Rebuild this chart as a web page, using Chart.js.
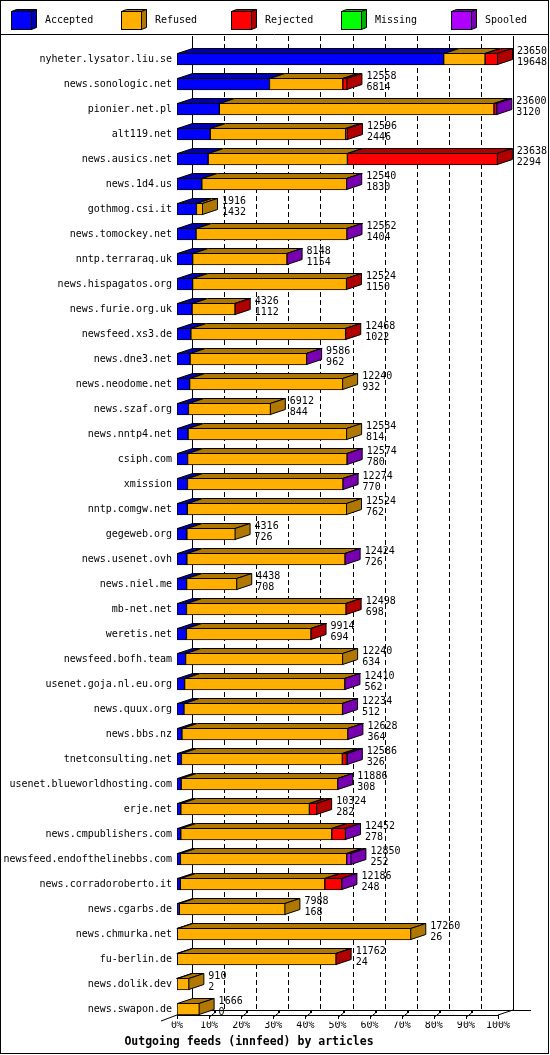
<!DOCTYPE html>
<html>
<head>
<meta charset="utf-8">
<title>Outgoing feeds (innfeed) by articles</title>
<script src="https://cdn.jsdelivr.net/npm/chart.js@4.4.1/dist/chart.umd.min.js"></script>
<style>
  html, body { margin: 0; padding: 0; background: #fff; }
  canvas { display: block; }
</style>
</head>
<body>
<canvas id="feeds" width="550" height="1055"></canvas>
<script>
// innfeed peers, top to bottom
const hosts = [
  'nyheter.lysator.liu.se', 'news.sonologic.net', 'pionier.net.pl', 'alt119.net',
  'news.ausics.net', 'news.1d4.us', 'gothmog.csi.it', 'news.tomockey.net',
  'nntp.terraraq.uk', 'news.hispagatos.org', 'news.furie.org.uk', 'newsfeed.xs3.de',
  'news.dne3.net', 'news.neodome.net', 'news.szaf.org', 'news.nntp4.net',
  'csiph.com', 'xmission', 'nntp.comgw.net', 'gegeweb.org',
  'news.usenet.ovh', 'news.niel.me', 'mb-net.net', 'weretis.net',
  'newsfeed.bofh.team', 'usenet.goja.nl.eu.org', 'news.quux.org', 'news.bbs.nz',
  'tnetconsulting.net', 'usenet.blueworldhosting.com', 'erje.net', 'news.cmpublishers.com',
  'newsfeed.endofthelinebbs.com', 'news.corradoroberto.it', 'news.cgarbs.de', 'news.chmurka.net',
  'fu-berlin.de', 'news.dolik.dev', 'news.swapon.de'
];

const offered = [
  23650, 12558, 23600, 12596, 23638, 12540, 1916, 12562,
  8148, 12524, 4326, 12468, 9586, 12240, 6912, 12534,
  12574, 12274, 12524, 4316, 12424, 4438, 12498, 9914,
  12240, 12410, 12234, 12628, 12586, 11886, 10324, 12452,
  12850, 12186, 7988, 17260, 11762, 910, 1666
];

const accepted = [
  19648, 6814, 3120, 2446, 2294, 1830, 1432, 1404,
  1154, 1150, 1112, 1022, 962, 932, 844, 814,
  780, 770, 762, 726, 726, 708, 698, 694,
  634, 562, 512, 364, 326, 308, 282, 278,
  252, 248, 168, 26, 24, 2, 0
];

const refused = [
  3050, 5400, 20230, 9980, 10260, 10680, 484, 11130,
  6960, 11340, 3170, 11400, 8590, 11308, 6068, 11720,
  11760, 11470, 11762, 3590, 11664, 3730, 11766, 9186,
  11606, 11814, 11688, 12230, 11856, 11540, 9472, 11124,
  12250, 10640, 7820, 17234, 11704, 908, 1666
];

const rejected = [
  952, 344, 180, 170, 11084, 0, 0, 0,
  0, 34, 44, 46, 0, 0, 0, 0,
  0, 0, 0, 0, 0, 0, 34, 34,
  0, 0, 0, 0, 300, 0, 570, 1010,
  0, 1250, 0, 0, 34, 0, 0
];

const missing = [
  0, 0, 0, 0, 0, 0, 0, 0,
  0, 0, 0, 0, 0, 0, 0, 0,
  0, 0, 0, 0, 0, 0, 0, 0,
  0, 0, 0, 0, 0, 0, 0, 0,
  0, 0, 0, 0, 0, 0, 0
];

const spooled = [
  0, 0, 70, 0, 0, 30, 0, 28,
  34, 0, 0, 0, 34, 0, 0, 0,
  34, 34, 0, 0, 34, 0, 0, 0,
  0, 34, 34, 34, 104, 38, 0, 40,
  348, 48, 0, 0, 0, 0, 0
];

const seriesNames = ['Accepted', 'Refused', 'Rejected', 'Missing', 'Spooled'];
const tickPercents = [0, 10, 20, 30, 40, 50, 60, 70, 80, 90, 100];
const tickLabels = ['0%', '10%', '20%', '30%', '40%', '50%', '60%', '70%', '80%', '90%', '100%'];

const MONO = '"DejaVu Sans Mono", "Liberation Mono", monospace';
const faceColors = ['#0000ff', '#ffaf00', '#ff0000', '#00ff00', '#af00ff'];
const shadeColors = ['#0000b0', '#b07800', '#b00000', '#00b000', '#7800b0'];
const DX = 15, DY = 5;   // depth of the 3d effect
const maxOffered = Math.max(...offered);
const seriesData = [accepted, refused, rejected, missing, spooled];

function poly(ctx, pts, fill) {
  ctx.beginPath();
  ctx.moveTo(pts[0][0], pts[0][1]);
  for (let i = 1; i < pts.length; i++) ctx.lineTo(pts[i][0], pts[i][1]);
  ctx.closePath();
  ctx.fillStyle = fill;
  ctx.fill();
  ctx.stroke();
}

function line(ctx, x1, y1, x2, y2) {
  ctx.beginPath();
  ctx.moveTo(x1, y1);
  ctx.lineTo(x2, y2);
  ctx.stroke();
}

// back wall grid and the floor, behind the bars
const backWall = {
  id: 'backWall',
  beforeDatasetsDraw(chart) {
    const { ctx } = chart;
    const xs = chart.scales.x, ys = chart.scales.y;
    const yFront = Math.round(ys.getPixelForValue(hosts.length - 1)) + 6;
    const yBack = yFront - DY;
    const top = 36;
    const px = p => Math.round(xs.getPixelForValue(maxOffered * p / 100));
    ctx.save();
    ctx.strokeStyle = '#000';
    ctx.fillStyle = '#000';
    ctx.lineWidth = 1;

    tickPercents.forEach((p, i) => {
      const xb = px(p) + DX + 0.5;
      const edge = i === 0 || i === tickPercents.length - 1;
      ctx.setLineDash(edge ? [] : [5, 3]);
      line(ctx, xb, top, xb, yBack);
    });
    ctx.setLineDash([]);

    const x0 = px(0), x1 = px(100);
    line(ctx, x0, yFront + 0.5, x1, yFront + 0.5);
    line(ctx, x0 + DX, yBack + 0.5, x1 + DX + 18, yBack + 0.5);
    line(ctx, x0 - 16, yFront + 6, x0, yFront);
    line(ctx, x1, yFront, x1 + DX, yBack);

    tickPercents.forEach((p, i) => {
      const xf = px(p) + 0.5;
      line(ctx, xf, yFront, xf, yFront + 4);
      if (i > 0 && i < tickPercents.length - 1) {
        line(ctx, xf, yFront + 2, xf + 5, yFront - 2);
        ctx.fillRect(xf + 4.5, yFront - 4, 2, 2);
      }
    });
    ctx.restore();
  }
};

// top and side faces, plus offered / accepted counts
const depthFaces = {
  id: 'depthFaces',
  afterDatasetsDraw(chart) {
    const { ctx } = chart;
    const xs = chart.scales.x, ys = chart.scales.y;
    ctx.save();
    ctx.strokeStyle = '#000';
    ctx.lineWidth = 1;
    ctx.lineJoin = 'miter';

    hosts.forEach((h, i) => {
      let last = -1;
      seriesData.forEach((arr, d) => {
        if (!arr[i]) return;
        const bar = chart.getDatasetMeta(d).data[i];
        const { x, base, y, height } = bar.getProps(['x', 'base', 'y', 'height'], true);
        const t = y - height / 2 + 0.5;
        const l = base + 0.5, r = x - 0.5;
        poly(ctx, [[l, t], [r, t], [r + DX, t - DY], [l + DX, t - DY]], shadeColors[d]);
        last = d;
      });
      if (last >= 0) {
        const bar = chart.getDatasetMeta(last).data[i];
        const { x, y, height } = bar.getProps(['x', 'y', 'height'], true);
        const t = y - height / 2 + 0.5, b = y + height / 2 - 0.5, r = x - 0.5;
        poly(ctx, [[r, t], [r + DX, t - DY], [r + DX, b - DY], [r, b]], shadeColors[last]);
      }
    });

    ctx.fillStyle = '#000';
    ctx.font = '10px ' + MONO;
    ctx.textAlign = 'left';
    ctx.textBaseline = 'alphabetic';
    hosts.forEach((h, i) => {
      const xEnd = xs.getPixelForValue(offered[i]);
      const c = ys.getPixelForValue(i);
      ctx.fillText(String(offered[i]), xEnd + DX + 4, c - 5);
      ctx.fillText(String(accepted[i]), xEnd + DX + 4, c + 6);
    });
    ctx.restore();
  }
};

// legend strip with cubes and the outer frame
const frameLegend = {
  id: 'frameLegend',
  afterDraw(chart) {
    const { ctx } = chart;
    ctx.save();
    ctx.strokeStyle = '#000';
    ctx.lineWidth = 1;
    seriesNames.forEach((name, k) => {
      const x = 11 + 110 * k + 0.5, y = 11.5, w = 20, hgt = 18;
      poly(ctx, [[x, y], [x + 5, y - 2], [x + w + 5, y - 2], [x + w, y]], shadeColors[k]);
      poly(ctx, [[x + w, y], [x + w + 5, y - 2], [x + w + 5, y + hgt - 2], [x + w, y + hgt]], shadeColors[k]);
      ctx.fillStyle = faceColors[k];
      ctx.fillRect(x, y, w, hgt);
      ctx.strokeRect(x, y, w, hgt);
      ctx.fillStyle = '#000';
      ctx.font = '10px ' + MONO;
      ctx.textBaseline = 'alphabetic';
      ctx.fillText(name, x + 33.5, 23);
    });
    ctx.strokeRect(0.5, 0.5, 548, 1053);
    line(ctx, 0, 34.5, 549, 34.5);
    ctx.restore();
  }
};

new Chart(document.getElementById('feeds'), {
  type: 'bar',
  data: {
    labels: hosts,
    datasets: seriesData.map((arr, d) => ({
      label: seriesNames[d],
      data: arr,
      backgroundColor: faceColors[d],
      borderColor: '#000',
      borderWidth: 1,
      borderSkipped: false,
      barThickness: 12
    }))
  },
  options: {
    indexAxis: 'y',
    responsive: false,
    animation: false,
    layout: { padding: { top: 46.5, right: 52, bottom: 1.7, left: 0 } },
    scales: {
      x: {
        stacked: true,
        min: 0,
        max: maxOffered,
        grid: { display: false, drawTicks: false },
        border: { display: false },
        afterBuildTicks: s => { s.ticks = tickPercents.map(p => ({ value: maxOffered * p / 100 })); },
        afterFit: s => { s.height = 10; },
        ticks: {
          autoSkip: false,
          maxRotation: 0,
          padding: -2,
          color: '#000',
          font: { family: MONO, size: 10 },
          callback: (v, i) => tickLabels[i]
        }
      },
      y: {
        stacked: true,
        grid: { display: false, drawTicks: false },
        border: { display: false },
        afterFit: s => { s.width = 177; },
        ticks: {
          autoSkip: false,
          padding: 5,
          color: '#000',
          font: { family: MONO, size: 10 }
        }
      }
    },
    plugins: {
      legend: { display: false },
      tooltip: { enabled: false },
      title: {
        display: true,
        position: 'bottom',
        text: 'Outgoing feeds (innfeed) by articles',
        color: '#000',
        font: { family: MONO, size: 11.5, weight: 'bold', lineHeight: 1.2 },
        padding: { top: 4, bottom: 4 }
      }
    }
  },
  plugins: [backWall, depthFaces, frameLegend]
});
</script>
</body>
</html>
